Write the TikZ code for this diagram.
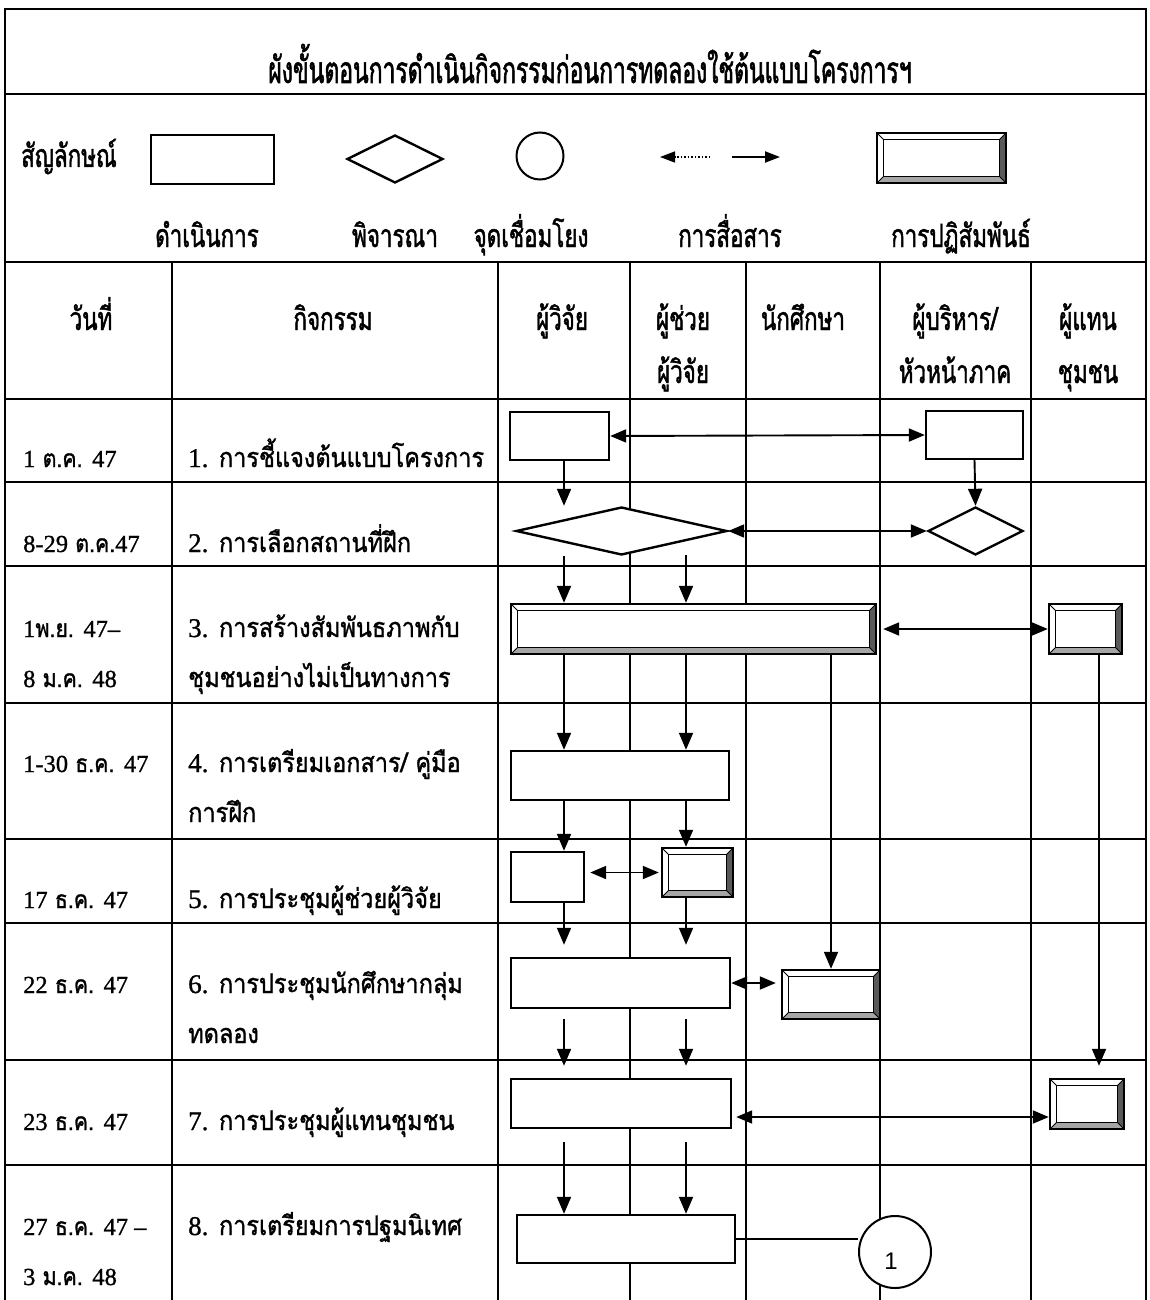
\documentclass[tikz,border=0pt]{standalone}
\usepackage{fontspec}
\usetikzlibrary{arrows.meta,shapes.geometric,calc}
\newfontfamily\thai[Script=Thai,FakeStretch=0.87,FakeBold=1.2]{Loma}
\newfontfamily\thaic[Script=Thai,FakeStretch=0.7,FakeBold=1.4]{Loma}
\newfontfamily\thait[Script=Thai,FakeStretch=0.62,FakeBold=1.5]{Loma}
\newfontfamily\latn[FakeBold=1]{Liberation Serif}
\newfontfamily\sansdigit{Liberation Sans}

\begin{document}
\begin{tikzpicture}[x=1pt,y=-1pt,
  tabline/.style={line width=1.8pt},
  proc/.style={draw, line width=2.4pt, fill=white, rectangle, inner sep=0pt},
  decide/.style={draw, line width=2.4pt, fill=white, diamond, inner sep=0pt},
  joint/.style={draw, line width=2pt, fill=white, circle, inner sep=0pt},
  bevel/.style={proc, path picture={
    \fill[black!65] (path picture bounding box.south east) -- (path picture bounding box.north east)
      -- ([shift={(-6.5pt,-6.5pt)}]path picture bounding box.north east)
      -- ([shift={(-6.5pt,6.5pt)}]path picture bounding box.south east) -- cycle;
    \fill[black!35] (path picture bounding box.south west) -- (path picture bounding box.south east)
      -- ([shift={(-6.5pt,6.5pt)}]path picture bounding box.south east)
      -- ([shift={(6.5pt,6.5pt)}]path picture bounding box.south west) -- cycle;
    \draw[line width=1.6pt,fill=white] ([shift={(6.5pt,6.5pt)}]path picture bounding box.south west)
      rectangle ([shift={(-6.5pt,-6.5pt)}]path picture bounding box.north east);
    \draw[line width=0.9pt]
      (path picture bounding box.south west) -- ([shift={(6.5pt,6.5pt)}]path picture bounding box.south west)
      (path picture bounding box.north west) -- ([shift={(6.5pt,-6.5pt)}]path picture bounding box.north west)
      (path picture bounding box.north east) -- ([shift={(-6.5pt,-6.5pt)}]path picture bounding box.north east)
      (path picture bounding box.south east) -- ([shift={(-6.5pt,6.5pt)}]path picture bounding box.south east);
  }},
  flow/.style={line width=1.9pt, -{Triangle[length=17pt,width=14pt]}},
  twoway/.style={line width=1.9pt, {Triangle[length=16pt,width=13pt]}-{Triangle[length=16pt,width=13pt]}},
  titletxt/.style={font=\thait\fontsize{37}{42}\selectfont, inner sep=0pt, anchor=base},
  headtxt/.style={font=\thaic\fontsize{32}{36}\selectfont, inner sep=0pt, anchor=base},
  bodytxt/.style={font=\thai\fontsize{27}{30}\selectfont, inner sep=0pt, anchor=base west},
  datetxt/.style={font=\thai\fontsize{24.5}{28}\selectfont, inner sep=0pt, anchor=base west},
]
\useasboundingbox (0,0) rectangle (1149,1300);

% table frame and rules
\draw[tabline] (5,1300) -- (5,9) -- (1146,9) -- (1146,1300);
\foreach \y in {94,262,399,482,566,703,839,923,1060,1165}
  \draw[tabline] (5,\y) -- (1146,\y);
\foreach \x in {172,498,630,746,880,1031}
  \draw[tabline] (\x,262) -- (\x,1300);

% title
\node[titletxt] (title) at (590,83) {ผังขั้นตอนการดำเนินกิจกรรมก่อนการทดลองใช้ต้นแบบโครงการฯ};

% legend
\node[headtxt, anchor=base west] (lgname) at (21,167) {สัญลักษณ์};
\node[proc, minimum width=123pt, minimum height=49pt] (lgproc) at (212.5,159.5) {};
\node[decide, minimum width=96pt, minimum height=48pt] (lgdec) at (395,159) {};
\node[joint, minimum size=47pt] (lgjoint) at (540,156) {};
\coordinate (lgLs) at (710,157);
\coordinate (lgLe) at (660,157);
\coordinate (lgRs) at (732,157);
\coordinate (lgRe) at (780,157);
\draw[line width=1.5pt, dotted, -{Triangle[length=15pt,width=11pt]}] (lgLs) -- (lgLe);
\draw[line width=2pt, -{Triangle[length=15pt,width=11pt]}] (lgRs) -- (lgRe);
\node[bevel, minimum width=129pt, minimum height=50pt] (lgbevel) at (941.5,158) {};
\node[headtxt] (lgt1) at (207,247) {ดำเนินการ};
\node[headtxt] (lgt2) at (395,247) {พิจารณา};
\node[headtxt] (lgt3) at (531,247) {จุดเชื่อมโยง};
\node[headtxt] (lgt4) at (730,247) {การสื่อสาร};
\node[headtxt] (lgt5) at (961,247) {การปฏิสัมพันธ์};

% column heads
\node[headtxt] (h1) at (91,330) {วันที่};
\node[headtxt] (h2) at (333,330) {กิจกรรม};
\node[headtxt] (h3) at (562,330) {ผู้วิจัย};
\node[headtxt] (h4a) at (683,330) {ผู้ช่วย};
\node[headtxt] (h4b) at (683,383) {ผู้วิจัย};
\node[headtxt] (h5) at (803,330) {นักศึกษา};
\node[headtxt] (h6a) at (955,330) {ผู้บริหาร/};
\node[headtxt] (h6b) at (955,383) {หัวหน้าภาค};
\node[headtxt] (h7a) at (1088,330) {ผู้แทน};
\node[headtxt] (h7b) at (1088,383) {ชุมชน};

% dates
\node[datetxt] (t1) at (23,467) {{\latn 1} ต.ค. {\latn 47}};
\node[datetxt] (t2) at (23,552) {{\latn 8-29} ต.ค.{\latn 47}};
\node[datetxt] (t3a) at (23,637) {{\latn 1}พ.ย. {\latn 47–}};
\node[datetxt] (t3b) at (23,687) {{\latn 8} ม.ค. {\latn 48}};
\node[datetxt] (t4) at (23,772) {{\latn 1-30} ธ.ค. {\latn 47}};
\node[datetxt] (t5) at (23,908) {{\latn 17} ธ.ค. {\latn 47}};
\node[datetxt] (t6) at (23,993) {{\latn 22} ธ.ค. {\latn 47}};
\node[datetxt] (t7) at (23,1130) {{\latn 23} ธ.ค. {\latn 47}};
\node[datetxt] (t8a) at (23,1235) {{\latn 27} ธ.ค. {\latn 47 –}};
\node[datetxt] (t8b) at (23,1285) {{\latn 3} ม.ค. {\latn 48}};

% activities
\node[bodytxt] (k1) at (188,467) {{\latn 1.} การชี้แจงต้นแบบโครงการ};
\node[bodytxt] (k2) at (188,552) {{\latn 2.} การเลือกสถานที่ฝึก};
\node[bodytxt] (k3a) at (188,637) {{\latn 3.} การสร้างสัมพันธภาพกับ};
\node[bodytxt] (k3b) at (188,687) {ชุมชนอย่างไม่เป็นทางการ};
\node[bodytxt] (k4a) at (188,772) {{\latn 4.} การเตรียมเอกสาร/ คู่มือ};
\node[bodytxt] (k4b) at (188,822) {การฝึก};
\node[bodytxt] (k5) at (188,908) {{\latn 5.} การประชุมผู้ช่วยผู้วิจัย};
\node[bodytxt] (k6a) at (188,993) {{\latn 6.} การประชุมนักศึกษากลุ่ม};
\node[bodytxt] (k6b) at (188,1043) {ทดลอง};
\node[bodytxt] (k7) at (188,1130) {{\latn 7.} การประชุมผู้แทนชุมชน};
\node[bodytxt] (k8) at (188,1235) {{\latn 8.} การเตรียมการปฐมนิเทศ};

% flow lanes
\coordinate (laneR) at (564,0);
\coordinate (laneA) at (686,0);
\coordinate (laneE) at (1099,0);

% flow shapes
\node[proc, minimum width=99pt, minimum height=48pt] (a1) at (559.5,436) {};
\node[proc, minimum width=97pt, minimum height=48pt] (b1) at (974.5,435) {};
\node[decide, minimum width=211pt, minimum height=48pt] (d1) at (621.5,531) {};
\node[decide, minimum width=95pt, minimum height=48pt] (d2) at (975.5,531) {};
\node[bevel, minimum width=365pt, minimum height=50pt] (c3) at (693.5,629) {};
\node[bevel, minimum width=73pt, minimum height=50pt] (e3) at (1085.5,629) {};
\node[proc, minimum width=218pt, minimum height=49pt] (b4) at (620,775.5) {};
\node[proc, minimum width=73pt, minimum height=50pt] (b5a) at (547.5,877) {};
\node[bevel, minimum width=71pt, minimum height=49pt] (b5b) at (697.5,872.5) {};
\node[proc, minimum width=219pt, minimum height=50pt] (b6) at (620.5,983) {};
\node[bevel, minimum width=98pt, minimum height=49pt] (b6b) at (831,994.5) {};
\node[proc, minimum width=220pt, minimum height=49pt] (b7) at (621,1103.5) {};
\node[bevel, minimum width=74pt, minimum height=50pt] (b7b) at (1087,1104) {};
\node[proc, minimum width=218pt, minimum height=48pt] (b8) at (626,1239) {};
\node[joint, minimum size=72pt] (c1) at (895,1252) {};
\node[font=\sansdigit\fontsize{24}{26}\selectfont, inner sep=0pt] (c1t) at ($(c1.center)+(-4,9)$) {1};

% connectors
\draw[twoway] (a1.east) -- (b1.west);
\draw[flow] (a1.south -| laneR) -- (d1.north -| laneR);
\draw[flow] (b1.south) -- (d2.north);
\draw[twoway] (d1.east) -- (d2.west);
\draw[flow] (d1.south -| laneR) -- (c3.north -| laneR);
\draw[flow] ($(d1.south -| laneA)+(0,-1)$) -- (c3.north -| laneA);
\draw[twoway, shorten <=6pt] (c3.east) -- (e3.west);
\draw[flow] (c3.south -| laneR) -- (b4.north -| laneR);
\draw[flow] (c3.south -| laneA) -- (b4.north -| laneA);
\draw[flow] (c3.south -| b6b.north) -- (b6b.north);
\draw[flow] (e3.south -| laneE) -- ($(b7b.north -| laneE)+(0,-12)$);
\draw[flow] (b4.south -| laneR) -- (b5a.north -| laneR);
\draw[flow] (b4.south -| laneA) -- (b5b.north -| laneA);
\draw[twoway, shorten <=5pt, shorten >=2pt] (b5b.west -| b5a.east) -- (b5b.west);
\draw[flow] (b5a.south -| laneR) -- ($(b6.north -| laneR)+(0,-12)$);
\draw[flow] (b5b.south -| laneA) -- ($(b6.north -| laneA)+(0,-12)$);
\draw[twoway, shorten >=5pt] (b6.east) -- (b6.east -| b6b.west);
\draw[flow] ($(b6.south -| laneR)+(0,10)$) -- ($(b7.north -| laneR)+(0,-12)$);
\draw[flow] ($(b6.south -| laneA)+(0,10)$) -- ($(b7.north -| laneA)+(0,-12)$);
\draw[twoway, shorten <=4pt] ($(b7.east)+(0,13.5)$) -- ($(b7.east -| b7b.west)+(0,13.5)$);
\draw[flow] ($(b7.south -| laneR)+(0,13)$) -- (b8.north -| laneR);
\draw[flow] ($(b7.south -| laneA)+(0,13)$) -- (b8.north -| laneA);
\draw[line width=1.8pt] (b8.east) -- (b8.east -| c1.west);
\end{tikzpicture}
\end{document}
